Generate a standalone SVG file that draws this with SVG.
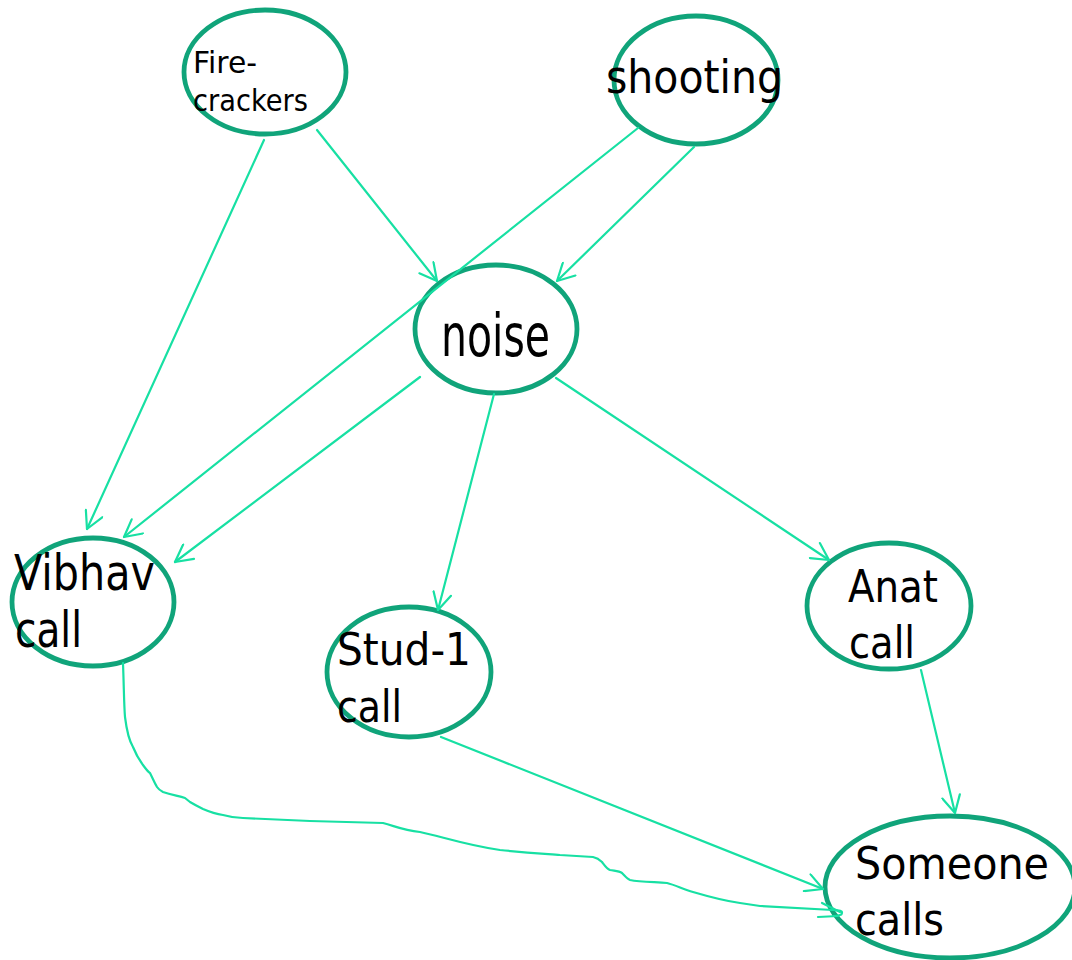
<svg xmlns="http://www.w3.org/2000/svg" width="1072" height="960" viewBox="0 0 1072 960">
  <style>
    .node ellipse { fill: none; stroke: #10a47a; stroke-width: 4.8; }
    .node text { font-family: "DejaVu Sans", "Liberation Sans", sans-serif; fill: #000; }
    .edge { fill: none; stroke: #17e0a3; stroke-width: 2.2; stroke-linecap: round; stroke-linejoin: round; }
    .arrow { marker-end: url(#head); }
  </style>
  <defs>
    <marker id="head" viewBox="0 0 20 20" refX="19" refY="10" markerWidth="20" markerHeight="20" markerUnits="userSpaceOnUse" orient="auto">
      <path d="M2,1 L19,10 L2,19" fill="none" stroke="#17e0a3" stroke-width="2.2" stroke-linecap="round" stroke-linejoin="round"/>
    </marker>
  </defs>
  <rect width="1072" height="960" fill="#fff"/>

  <g id="firecrackers" class="node">
    <ellipse cx="265" cy="72" rx="81" ry="62"/>
    <text x="193" y="73" font-size="30" textLength="64" lengthAdjust="spacingAndGlyphs">Fire-</text>
    <text x="193" y="111" font-size="30" textLength="115" lengthAdjust="spacingAndGlyphs">crackers</text>
  </g>
  <g id="shooting" class="node">
    <ellipse cx="696" cy="80" rx="82" ry="64"/>
    <text x="606" y="93" font-size="46" textLength="177" lengthAdjust="spacingAndGlyphs">shooting</text>
  </g>
  <g id="noise" class="node">
    <ellipse cx="496" cy="329" rx="81" ry="64"/>
    <text x="441" y="356" font-size="58" textLength="109" lengthAdjust="spacingAndGlyphs">noise</text>
  </g>
  <g id="vibhav" class="node">
    <ellipse cx="93" cy="602" rx="81" ry="64"/>
    <text x="14" y="590" font-size="49" textLength="141" lengthAdjust="spacingAndGlyphs">Vibhav</text>
    <text x="15" y="647" font-size="49" textLength="67" lengthAdjust="spacingAndGlyphs">call</text>
  </g>
  <g id="stud1" class="node">
    <ellipse cx="409" cy="672" rx="82" ry="65"/>
    <text x="337" y="665" font-size="45" textLength="134" lengthAdjust="spacingAndGlyphs">Stud-1</text>
    <text x="337" y="722" font-size="45" textLength="65" lengthAdjust="spacingAndGlyphs">call</text>
  </g>
  <g id="anat" class="node">
    <ellipse cx="889" cy="606" rx="82" ry="63"/>
    <text x="848" y="602" font-size="45" textLength="90" lengthAdjust="spacingAndGlyphs">Anat</text>
    <text x="849" y="658" font-size="45" textLength="66" lengthAdjust="spacingAndGlyphs">call</text>
  </g>
  <g id="someone" class="node">
    <ellipse cx="950" cy="887" rx="125" ry="71"/>
    <text x="855" y="879" font-size="45" textLength="194" lengthAdjust="spacingAndGlyphs">Someone</text>
    <text x="855" y="935" font-size="45" textLength="89" lengthAdjust="spacingAndGlyphs">calls</text>
  </g>

  <g id="connectors">
    <line class="edge arrow" x1="264" y1="140" x2="87" y2="529"/>
    <line class="edge arrow" x1="317" y1="130" x2="437" y2="281"/>
    <line class="edge arrow" x1="638" y1="128" x2="124" y2="537"/>
    <line class="edge arrow" x1="694" y1="147" x2="557" y2="281"/>
    <line class="edge arrow" x1="420" y1="377" x2="175" y2="562"/>
    <line class="edge arrow" x1="494" y1="394" x2="438" y2="610"/>
    <line class="edge arrow" x1="556" y1="378" x2="829" y2="560"/>
    <line class="edge arrow" x1="921" y1="670" x2="955" y2="813"/>
    <line class="edge arrow" x1="441" y1="737" x2="823" y2="889"/>
    <!-- freehand link from Vibhav call to Someone calls -->
    <path class="edge" d="M123,663 C124,690 124,705 125,717 C127,733 130,742 133,747 C137,757 140,761 143,765 C146,769 148,772 150,773 C153,779 155,784 157,787 C159,790 161,791 163,792 C172,795 179,796 185,798 L190,802 C195,805 199,807 203,809 C210,812 216,814 223,815 C230,817 236,818 243,818 L310,821 L383,823 C395,826 402,830 420,832 C440,836 465,845 500,850 C530,853 548,854 560,855 L593,857 C598,858 600,860 602,862 C605,866 607,869 610,870 C615,871 619,871 622,873 C625,876 627,879 630,880 C640,882 655,882 667,883 C675,885 683,889 693,892 C710,897 725,901 740,903 L760,906 L833,910 C838,910 842,911 842,912 C842,914 841,915 840,915 C837,916 835,916 833,916"/>
    <path class="edge" d="M818,917 L838,916"/>
    <path class="edge" d="M822,903 L840,912"/>
  </g>
</svg>
